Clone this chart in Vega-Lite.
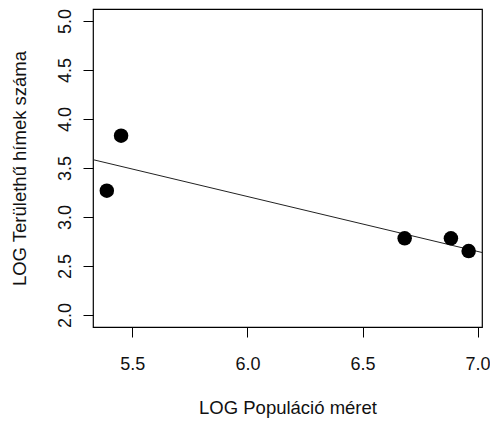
{
  "$schema": "https://vega.github.io/schema/vega-lite/v6.json",
  "autosize": {"type": "none"},
  "width": 389,
  "height": 318,
  "padding": {"left": 93, "top": 9, "right": 8, "bottom": 94},
  "background": "white",
  "config": {
    "view": {"stroke": "black", "strokeWidth": 1.2},
    "font": "Liberation Sans",
    "axis": {
      "domain": false,
      "grid": false,
      "ticks": true,
      "tickColor": "black",
      "tickSize": 10,
      "tickWidth": 1,
      "labelFont": "Liberation Sans",
      "labelFontSize": 18,
      "labelColor": "#111",
      "titleFont": "Liberation Sans",
      "titleFontSize": 18.5,
      "titleFontWeight": "normal",
      "titleColor": "#111"
    }
  },
  "datasets": {
    "points": [
      {"logpop": 5.389, "loghim": 3.268},
      {"logpop": 5.451, "loghim": 3.83},
      {"logpop": 6.683, "loghim": 2.783},
      {"logpop": 6.884, "loghim": 2.783},
      {"logpop": 6.961, "loghim": 2.653}
    ],
    "fit": [
      {"logpop": 5.329, "loghim": 3.585},
      {"logpop": 7.019, "loghim": 2.638}
    ]
  },
  "layer": [
    {
      "data": {"name": "fit"},
      "mark": {"type": "line", "color": "#222", "strokeWidth": 1, "clip": true},
      "encoding": {
        "x": {"field": "logpop", "type": "quantitative"},
        "y": {"field": "loghim", "type": "quantitative"}
      }
    },
    {
      "data": {"name": "points"},
      "mark": {"type": "circle", "color": "black", "opacity": 1, "size": 210},
      "encoding": {
        "x": {
          "field": "logpop",
          "type": "quantitative",
          "scale": {"domain": [5.329, 7.019], "nice": false, "zero": false},
          "axis": {
            "title": "LOG Populáció méret",
            "values": [5.5, 6.0, 6.5, 7.0],
            "format": ".1f",
            "labelBaseline": "alphabetic",
            "labelPadding": 32,
            "titleBaseline": "alphabetic",
            "titleY": 86
          }
        },
        "y": {
          "field": "loghim",
          "type": "quantitative",
          "scale": {"domain": [1.878, 5.122], "nice": false, "zero": false},
          "axis": {
            "title": "LOG Területhű hímek száma",
            "values": [2.0, 2.5, 3.0, 3.5, 4.0, 4.5, 5.0],
            "format": ".1f",
            "labelAngle": -90,
            "labelAlign": "center",
            "labelBaseline": "alphabetic",
            "labelPadding": 13,
            "titleAngle": -90,
            "titleBaseline": "alphabetic",
            "titleX": -68
          }
        }
      }
    }
  ]
}
